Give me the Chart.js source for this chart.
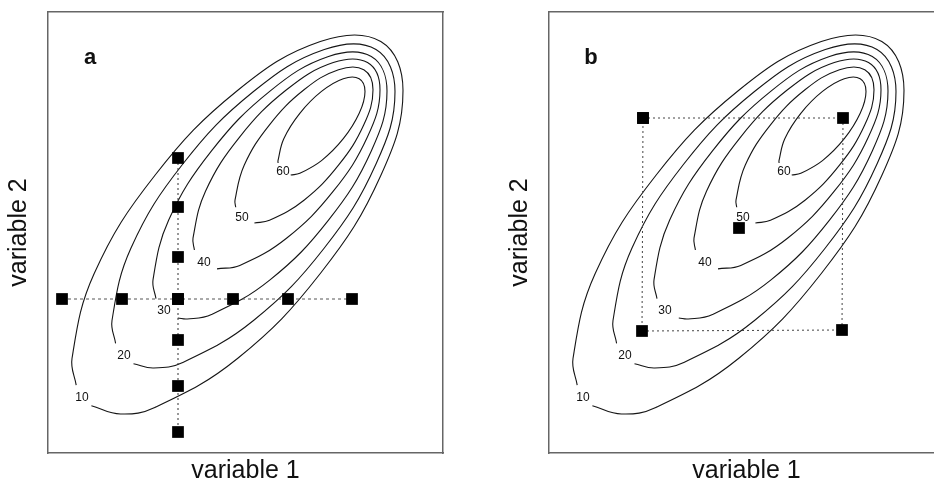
<!DOCTYPE html>
<html><head><meta charset="utf-8">
<script src="https://cdn.jsdelivr.net/npm/chart.js@4.4.1/dist/chart.umd.min.js"></script>
<style>
html,body{margin:0;padding:0;background:#fff;overflow:hidden;width:934px;height:481px;position:relative;}
canvas{position:absolute;top:0;}
#ca{left:0}
#cb{left:501px}
</style></head><body>
<canvas id="ca" width="470" height="490" style="width:470px;height:490px"></canvas>
<canvas id="cb" width="470" height="490" style="width:470px;height:490px"></canvas>
<script>
// contour levels and their label anchor points (variable 1, variable 2)
const contourLevels = ['10','20','30','40','50','60'];
const contourLabelPos = [[34,55],[76,97],[116,142],[156,190],[194,235],[235,281]];

// contour lines (variable 1, variable 2)
const contour10 = [[43.4,47.3],[72.5,39],[106.8,45.5],[189.5,94.5],[272.3,179.5],[332.8,277.5],[355,362.5],[332.8,411.5],[272.3,411.5],[189.5,362.5],[106.8,277.5],[46.2,179.5],[24,94.5],[28.2,67.8]];
const contour20 = [[85.5,89.2],[105.5,85],[134.8,90.5],[205.5,132.5],[276.3,205],[328,289],[347,361.5],[328,403.5],[276.3,403.5],[205.5,361.5],[134.8,289],[83,205],[64,132.5],[67.6,109.6]];
const contour30 = [[129.8,135],[139.3,134],[163.5,138.5],[222,173.1],[280.5,232.9],[323.3,302.1],[339,361.9],[323.3,396.5],[280.5,396.5],[222,361.9],[163.5,302.1],[120.7,232.9],[105,173.1],[108,154.3]];
const contour40 = [[169,184.1],[191.8,187.6],[238.5,214.8],[285.3,261.8],[319.5,316.2],[332,363.2],[319.5,390.4],[285.3,390.4],[238.5,363.2],[191.8,316.2],[157.5,261.8],[145,214.8],[146.4,203]];
const contour50 = [[206.4,230],[221.5,232.7],[256,252.8],[290.5,287.8],[315.8,328.2],[325,363.2],[315.8,383.3],[290.5,383.3],[256,363.2],[221.5,328.2],[196.2,287.8],[187,252.8],[187.7,245.7]];
const contour60 = [[242.7,278],[251.8,279.7],[273.5,292.4],[295.3,314.3],[311.2,339.7],[317,361.6],[311.2,374.3],[295.3,374.3],[273.5,361.6],[251.8,339.7],[235.8,314.3],[230,292.4],[230.1,290]];

// panel a: one-factor-at-a-time runs
const runsA_vertical = [[130,295],[130,246],[130,196],[130,154],[130,113],[130,67],[130,21]];
const runsA_horizontal = [[14,154],[74,154],[130,154],[185,154],[240,154],[304,154]];
// panel b: factorial design runs
const runsB_corners = [[94,335],[294,335],[293,123],[93,122],[94,335]];
const runsB_center = [[190,225]];

const panelLetters = ['a','b'];
const letterPos = [42,395];

const FONT = '"Liberation Sans", Arial, Helvetica, sans-serif';
const toXY = arr => arr.map(p => ({x:p[0], y:p[1]}));
const contours = [contour10, contour20, contour30, contour40, contour50, contour60];

const textPlugin = {
  id: 'panelTexts',
  afterDatasetsDraw(chart, args, opts) {
    const {ctx} = chart;
    const x = chart.scales.x, y = chart.scales.y;
    ctx.save();
    ctx.fillStyle = '#111';
    ctx.textAlign = 'center';
    ctx.textBaseline = 'middle';
    ctx.font = '12px ' + FONT;
    contourLevels.forEach((lab, i) => {
      ctx.fillText(lab, x.getPixelForValue(contourLabelPos[i][0]), y.getPixelForValue(contourLabelPos[i][1]));
    });
    ctx.font = 'bold 22px ' + FONT;
    ctx.fillText(opts.letter, x.getPixelForValue(letterPos[0]), y.getPixelForValue(letterPos[1]));
    ctx.restore();
  }
};

function markerSet(data, dash, color) {
  return {
    data: toXY(data), showLine: true, tension: 0,
    borderColor: color, borderWidth: 1, borderDash: dash,
    pointStyle: 'rect', pointRadius: 8.3, pointBackgroundColor: '#000',
    pointBorderColor: '#000', pointBorderWidth: 0
  };
}

function contourSets() {
  return contours.map(c => ({
    data: toXY(c), showLine: true, tension: 0.4, fill: false,
    borderColor: '#151515', borderWidth: 1.1, pointRadius: 0
  }));
}

const axisFont = {family: FONT, size: 25, lineHeight: 1};
const borderStyle = {display: true, color: '#666', width: 1.5};
function scalesCfg() {
  return {
    x: {type: 'linear', position: 'bottom', min: 0, max: 395,
        ticks: {display: false}, grid: {display: false, drawTicks: false}, border: borderStyle,
        title: {display: true, text: 'variable 1', color: '#111', font: axisFont, padding: {top: 5.5, bottom: 0}}},
    y: {type: 'linear', position: 'left', min: 0, max: 441,
        ticks: {display: false}, grid: {display: false, drawTicks: false}, border: borderStyle,
        title: {display: true, text: 'variable 2', color: '#111', font: axisFont, padding: {top: 6.5, bottom: 16.5}}},
    x2: {type: 'linear', position: 'top', min: 0, max: 395,
        ticks: {display: false}, grid: {display: false, drawTicks: false}, border: borderStyle},
    y2: {type: 'linear', position: 'right', min: 0, max: 441,
        ticks: {display: false}, grid: {display: false, drawTicks: false}, border: borderStyle}
  };
}

function makePanel(id, markerDatasets, letter) {
  return new Chart(document.getElementById(id), {
    type: 'scatter',
    data: {datasets: markerDatasets.concat(contourSets())},
    options: {
      responsive: false, animation: false, events: [],
      layout: {padding: {top: 12, right: 27, bottom: 6.5, left: 0}},
      plugins: {legend: {display: false}, tooltip: {enabled: false}, panelTexts: {letter: letter}},
      scales: scalesCfg()
    },
    plugins: [textPlugin]
  });
}

makePanel('ca', [
  markerSet(runsA_vertical, [2, 3], '#333'),
  markerSet(runsA_horizontal, [3, 3], '#555')
], panelLetters[0]);

makePanel('cb', [
  markerSet(runsB_center, [], '#000'),
  markerSet(runsB_corners, [2, 3], '#444')
], panelLetters[1]);
</script>
</body></html>
